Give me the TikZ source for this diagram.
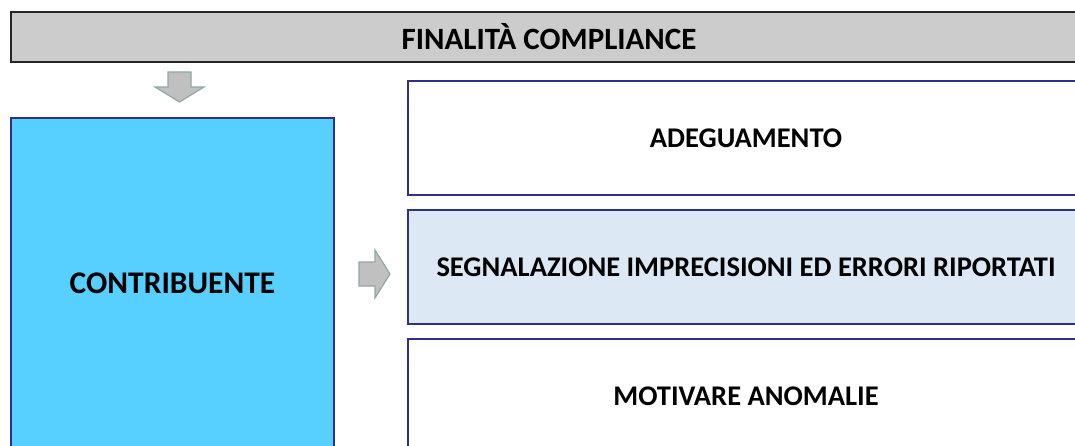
\documentclass[tikz,border=0pt]{standalone}
\usepackage{fontspec}
\setmainfont{Carlito}
\definecolor{barfill}{HTML}{CCCCCC}
\definecolor{boxline}{HTML}{2E3188}
\definecolor{contrfill}{HTML}{57CFFF}
\definecolor{segnfill}{HTML}{DDE8F5}
\definecolor{arrowfill}{HTML}{C0C0C0}
\definecolor{arrowline}{HTML}{8FA8A8}
\tikzset{
  bar/.style={draw=black!85, line width=1.5pt, fill=barfill, rectangle,
    minimum width=1076pt, minimum height=50pt, font=\bfseries\fontsize{31}{35}\selectfont},
  contrbox/.style={draw=boxline, line width=1.5pt, fill=contrfill, rectangle,
    minimum width=323pt, minimum height=330pt, font=\bfseries\fontsize{31.5}{36}\selectfont},
  rightbox/.style={draw=boxline, line width=1.5pt, fill=white, rectangle,
    minimum width=676pt, minimum height=114pt, font=\bfseries\fontsize{28.5}{33}\selectfont},
  blockarrow/.style={draw=arrowline, line width=1.2pt, fill=arrowfill}
}
\begin{document}
\begin{tikzpicture}[x=1pt,y=-1pt]
    \clip (0,0) rectangle (1075,446);
    \fill[white] (0,0) rectangle (1075,446);
    % intestazione
    \node[bar] (finalita) at (549,37) {FINALITÀ COMPLIANCE};
    % colonna sinistra
    \node[contrbox] (contribuente) at (172.5,283) {CONTRIBUENTE};
    % colonna destra
    \node[rightbox] (adeguamento) at (746,138) {ADEGUAMENTO};
    \node[rightbox, fill=segnfill] (segnalazione) at (746,267) {SEGNALAZIONE IMPRECISIONI ED ERRORI RIPORTATI};
    \node[rightbox] (motivare) at (746,396) {MOTIVARE ANOMALIE};
    % frecce
    \draw[blockarrow] (168,72) -- (191,72) -- (191,87) -- (204,87) -- (179.5,102)
        -- (155,87) -- (168,87) -- cycle;
    \draw[blockarrow] (359,262) -- (375,262) -- (375,250) -- (390,274) -- (375,298)
        -- (375,286) -- (359,286) -- cycle;
\end{tikzpicture}
\end{document}
